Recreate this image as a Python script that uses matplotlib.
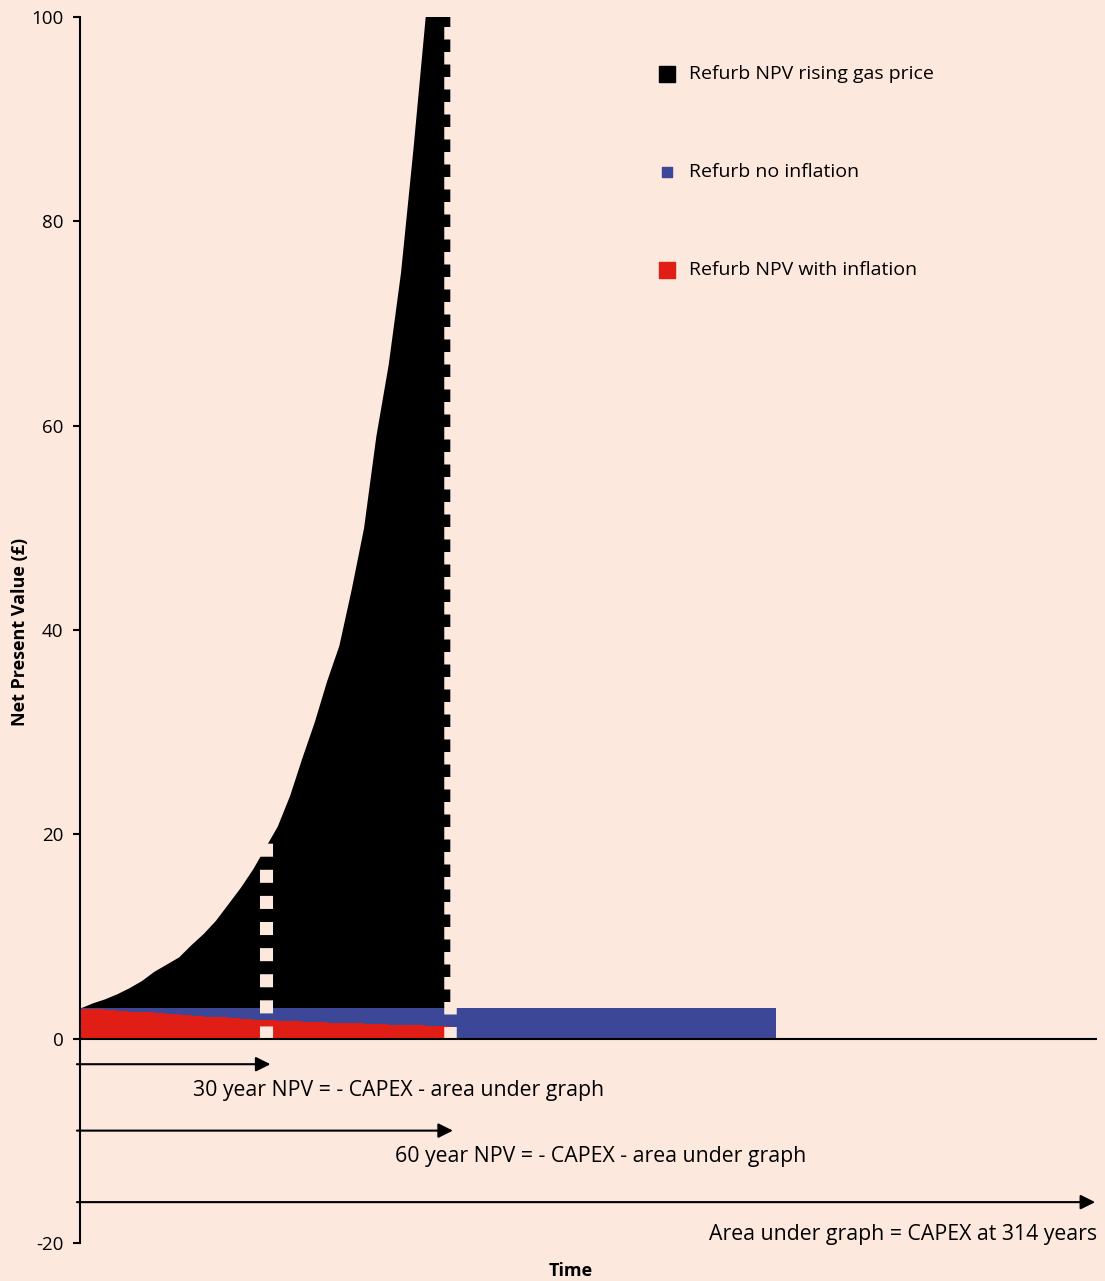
import matplotlib
matplotlib.use('Agg')
import matplotlib.pyplot as plt

plt.rcParams['font.family'] = ['Open Sans', 'DejaVu Sans']
plt.rcParams['axes.unicode_minus'] = False

# Data (years, NPV in £)
years = [0, 2, 4, 6, 8, 10, 12, 14, 16, 18, 20, 22, 24, 26, 28, 30,
         32, 34, 36, 38, 40, 42, 44, 46, 48, 50, 52, 54, 56, 58, 60]
rising_gas = [3.0, 3.5, 3.9, 4.4, 5.0, 5.7, 6.6, 7.3, 8.0, 9.2, 10.3, 11.6, 13.2, 14.8, 16.6, 18.7,
              20.8, 23.8, 27.5, 31.0, 35.0, 38.5, 44.0, 50.0, 59.0, 66.0, 75.0, 87.0, 100.0, 112.0, 124.0]
with_inflation = [2.95, 2.9, 2.85, 2.75, 2.65, 2.6, 2.5, 2.4, 2.35, 2.25, 2.15, 2.1, 2.0, 1.95, 1.85, 1.8,
                  1.75, 1.7, 1.65, 1.6, 1.55, 1.5, 1.5, 1.45, 1.4, 1.35, 1.3, 1.3, 1.25, 1.2, 1.2]
no_infl_years = [0, 113]
no_inflation = [3.0, 3.0]

legend_labels = ['Refurb NPV rising gas price', 'Refurb no inflation', 'Refurb NPV with inflation']
arrow_ends = [30.9, 60.5, 164.7]
arrow_levels = [-2.5, -9.0, -16.0]
notes = ['30 year NPV = - CAPEX - area under graph',
         '60 year NPV = - CAPEX - area under graph',
         'Area under graph = CAPEX at 314 years']

bg = '#fde8dd'
blue = '#3d4797'
red = '#e01e16'

fig = plt.figure(figsize=(11.05, 12.81), dpi=100, facecolor=bg)
ax = fig.add_axes([80 / 1105, 1 - 1243 / 1281, (1097 - 80) / 1105, (1243 - 17) / 1281])
ax.set_facecolor(bg)

# Filled areas
ax.fill_between(years, 0, rising_gas, color='black', lw=0)
ax.fill_between(no_infl_years, 0, no_inflation, color=blue, lw=0)
ax.fill_between(years, 0, with_inflation, color=red, lw=0, step='post')

# White dashed markers at 30 and 60 years
ax.plot([30.2, 30.2], [0, 20.5], color=bg, lw=9.4, dashes=(1, 1), solid_capstyle='butt')
ax.plot([60, 60], [0, 100], color=bg, lw=9.0, dashes=(1, 1), solid_capstyle='butt')

# x axis line at zero
ax.axhline(0, color='black', lw=1.5)

ax.set_xlim(0, 165)
ax.set_ylim(-20, 100)
ax.set_yticks([-20, 0, 20, 40, 60, 80, 100])
ax.set_xticks([])
for s in ['top', 'right', 'bottom']:
    ax.spines[s].set_visible(False)
ax.spines['left'].set_linewidth(1.5)
ax.tick_params(axis='y', direction='out', length=5, width=1.5, labelsize=13.5, pad=7)
fig.text(20 / 1105, 1 - 632 / 1281, 'Net Present Value (£)', fontsize=13, fontweight='bold',
         rotation=90, ha='center', va='center')

# Arrows and notes
for end, lev in zip(arrow_ends, arrow_levels):
    ax.annotate('', xy=(end, lev), xytext=(-0.5, lev),
                arrowprops=dict(arrowstyle='-|>', color='black', lw=1.5,
                                mutation_scale=22, shrinkA=0, shrinkB=0))
ax.text(18.3, -5.1, notes[0], fontsize=15.3, va='center', ha='left')
ax.text(51.1, -11.5, notes[1], fontsize=15.3, va='center', ha='left')
ax.text(165, -19.2, notes[2], fontsize=15.3, va='center', ha='right')

# Manual legend
ax.scatter([95.3], [94.4], marker='s', s=130, color='black', clip_on=False)
ax.scatter([95.3], [84.8], marker='s', s=60, color=blue, clip_on=False)
ax.scatter([95.3], [75.2], marker='s', s=130, color=red, clip_on=False)
for lab, yy in zip(legend_labels, [94.4, 84.8, 75.2]):
    ax.text(98.8, yy, lab, fontsize=14, va='center', ha='left')

fig.text(571 / 1105, 1 - 1271 / 1281, 'Time', fontsize=13, fontweight='bold', ha='center', va='center')

fig.savefig('out.png', dpi=100, facecolor=bg)
